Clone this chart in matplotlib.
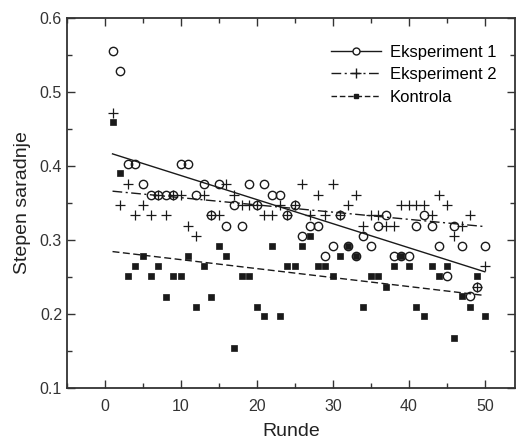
import matplotlib
matplotlib.use("Agg")
import matplotlib.pyplot as plt
import numpy as np
from matplotlib.ticker import MultipleLocator

plt.rcParams['font.family'] = ['Liberation Sans', 'DejaVu Sans']

rounds = np.arange(1, 51)

exp1 = [0.556, 0.528, 0.403, 0.403, 0.376, 0.361, 0.361, 0.361, 0.361, 0.403,
        0.403, 0.361, 0.376, 0.334, 0.376, 0.319, 0.348, 0.319, 0.376, 0.348,
        0.376, 0.361, 0.361, 0.334, 0.348, 0.306, 0.319, 0.319, 0.279, 0.292,
        0.334, 0.292, 0.279, 0.306, 0.292, 0.319, 0.334, 0.279, 0.279, 0.279,
        0.319, 0.334, 0.319, 0.292, 0.251, 0.319, 0.292, 0.224, 0.237, 0.292]

exp2 = [0.472, 0.348, 0.376, 0.334, 0.348, 0.334, 0.361, 0.334, 0.361, 0.361,
        0.319, 0.306, 0.361, 0.334, 0.334, 0.376, 0.361, 0.348, 0.348, 0.348,
        0.334, 0.334, 0.348, 0.334, 0.348, 0.376, 0.334, 0.361, 0.334, 0.376,
        0.334, 0.348, 0.361, 0.319, 0.334, 0.334, 0.319, 0.319, 0.348, 0.348,
        0.348, 0.348, 0.334, 0.361, 0.348, 0.306, 0.319, 0.334, 0.237, 0.265]

kontrola = [0.459, 0.390, 0.251, 0.265, 0.279, 0.251, 0.265, 0.223, 0.251, 0.251,
            0.279, 0.209, 0.265, 0.223, 0.292, 0.279, 0.154, 0.251, 0.251, 0.210,
            0.197, 0.292, 0.197, 0.265, 0.265, 0.292, 0.306, 0.265, 0.265, 0.251,
            0.279, 0.292, 0.279, 0.210, 0.251, 0.251, 0.237, 0.265, 0.279, 0.265,
            0.210, 0.197, 0.265, 0.251, 0.265, 0.168, 0.224, 0.210, 0.251, 0.197]

labels = ["Eksperiment 1", "Eksperiment 2", "Kontrola"]

fig = plt.figure(figsize=(5.23, 4.4), dpi=100)
ax = fig.add_axes([0.128, 0.118, 0.857, 0.841])

ink = "#1a1a1a"
dashdot = (0, (7, 2.5, 1.5, 2.5))

def fit(y):
    k, n = np.polyfit(rounds, y, 1)
    return k * rounds + n

# regression lines
ax.plot(rounds, fit(exp1), color=ink, lw=1.0, ls='-')
ax.plot(rounds, fit(exp2), color=ink, lw=1.0, ls=dashdot)
ax.plot(rounds, fit(kontrola), color=ink, lw=1.0, ls=(0, (5, 2.5)))

# points
ax.plot(rounds, exp1, ls='none', marker='o', ms=6, mfc='none', mec=ink, mew=1.0)
ax.plot(rounds, exp2, ls='none', marker='+', ms=7, mec=ink, mew=0.9)
ax.plot(rounds, kontrola, ls='none', marker='s', ms=4, mfc=ink, mec=ink, mew=0.5)

# legend handles: line with marker in middle
h1, = ax.plot([], [], color=ink, lw=1.0, ls='-', marker='o', ms=5, mfc='white', mec=ink)
h2, = ax.plot([], [], color=ink, lw=1.0, ls=dashdot, marker='+', ms=7, mec=ink)
h3, = ax.plot([], [], color=ink, lw=1.0, ls=(0, (4, 2)), marker='s', ms=3.5, mfc=ink, mec=ink)
ax.legend([h1, h2, h3], labels, loc='upper right', bbox_to_anchor=(0.98, 0.955),
          frameon=False, fontsize=12, handlelength=3.0, handletextpad=0.5,
          labelspacing=0.45, borderaxespad=0.2)

ax.set_xlim(-5, 54)
ax.set_ylim(0.1, 0.6)
ax.set_xticks([0, 10, 20, 30, 40, 50])
ax.xaxis.set_minor_locator(MultipleLocator(5))
ax.set_yticks([0.1, 0.2, 0.3, 0.4, 0.5, 0.6])
ax.yaxis.set_minor_locator(MultipleLocator(0.05))
ax.tick_params(which='both', direction='in', top=True, right=True, colors='#333333',
               labelcolor='#333333', labelsize=11.5)
ax.tick_params(which='major', length=6, width=1.0)
ax.tick_params(which='minor', length=3.5, width=1.0)
ax.tick_params(axis='x', pad=8)
for s in ax.spines.values():
    s.set_color('#333333')
    s.set_linewidth(1.3)

ax.set_xlabel("Runde", fontsize=14, color='#222222', labelpad=6)
ax.set_ylabel("Stepen saradnje", fontsize=14, color='#222222', labelpad=6)

fig.savefig("out.png", dpi=100)
